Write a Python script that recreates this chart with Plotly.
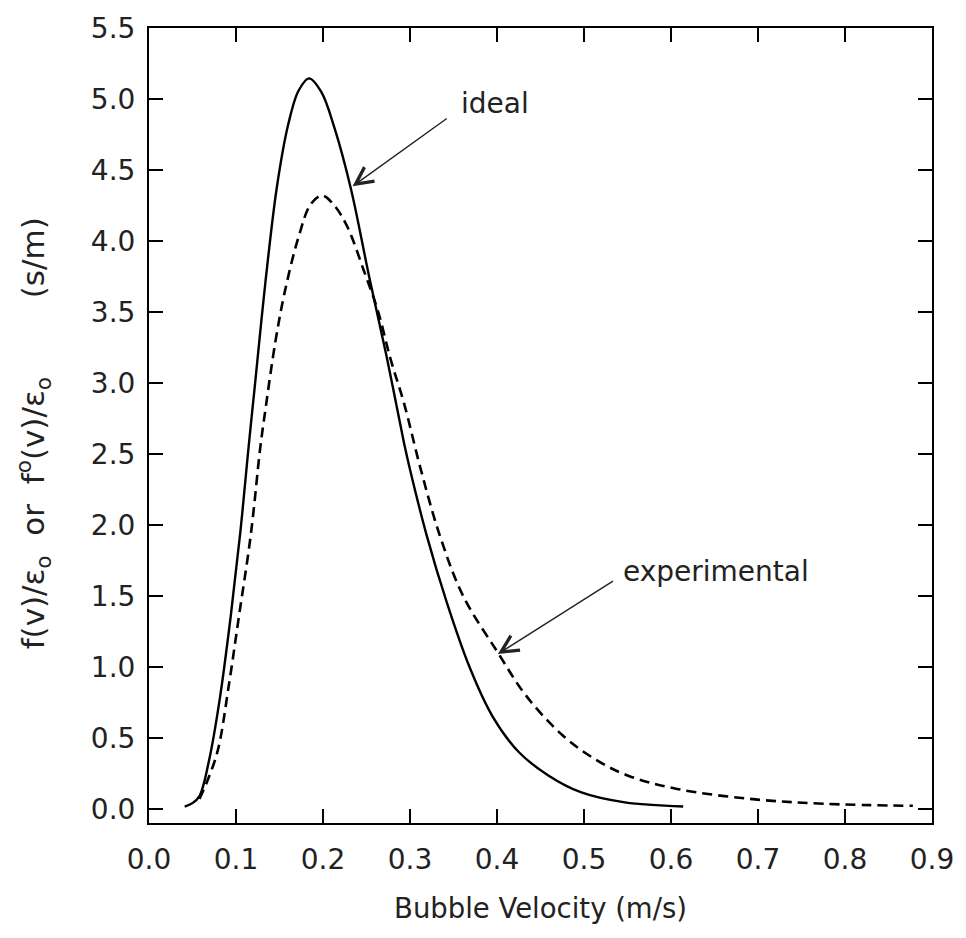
import plotly.graph_objects as go

# Ideal distribution (solid)
ideal_v = [0.041, 0.050, 0.058, 0.069, 0.081, 0.094, 0.105, 0.114, 0.122, 0.134, 0.147, 0.160,
           0.172, 0.184, 0.198, 0.213, 0.232, 0.253, 0.274, 0.293, 0.300, 0.319, 0.342,
           0.369, 0.395, 0.425, 0.459, 0.497, 0.547, 0.614]
ideal_f = [0.016, 0.040, 0.090, 0.34, 0.76, 1.36, 1.95, 2.52, 3.00, 3.72, 4.38, 4.82,
           5.06, 5.145, 5.05, 4.80, 4.37, 3.75, 3.16, 2.58, 2.39, 1.93, 1.46,
           0.99, 0.650, 0.400, 0.235, 0.115, 0.045, 0.016]

# Experimental distribution (dashed)
exp_v = [0.058, 0.066, 0.079, 0.092, 0.103, 0.117, 0.128, 0.134, 0.145, 0.156, 0.172,
         0.186, 0.199, 0.213, 0.228, 0.247, 0.263, 0.278, 0.293, 0.312, 0.334, 0.361,
         0.401, 0.433, 0.475, 0.5125, 0.550, 0.607, 0.694, 0.778, 0.878]
exp_f = [0.07, 0.18, 0.41, 0.88, 1.34, 1.93, 2.55, 2.82, 3.28, 3.64, 4.03,
         4.26, 4.32, 4.25, 4.10, 3.79, 3.51, 3.16, 2.86, 2.40, 1.93, 1.50,
         1.10, 0.80, 0.52, 0.35, 0.235, 0.14, 0.068, 0.035, 0.021]

x_ticks = [0.0, 0.1, 0.2, 0.3, 0.4, 0.5, 0.6, 0.7, 0.8, 0.9]
y_ticks = [0.0, 0.5, 1.0, 1.5, 2.0, 2.5, 3.0, 3.5, 4.0, 4.5, 5.0, 5.5]

FONT = "DejaVu Sans"
FS = 28
TXT = "#222"

fig = go.Figure()
fig.add_trace(go.Scatter(x=ideal_v, y=ideal_f, mode="lines", line_shape="spline",
                         line=dict(color="black", width=2.4), showlegend=False))
fig.add_trace(go.Scatter(x=exp_v, y=exp_f, mode="lines", line_shape="spline",
                         line=dict(color="black", width=2.6, dash="10px,6px"), showlegend=False))

axis_common = dict(showgrid=False, zeroline=False, showline=True, linecolor="black",
                   linewidth=2, mirror="allticks", ticks="inside", ticklen=14,
                   tickwidth=1.6, tickcolor="black", tickformat=".1f",
                   tickfont=dict(family=FONT, size=FS, color=TXT))

fig.update_xaxes(range=[0, 0.9], tickvals=x_ticks, ticklabelstandoff=10,
                 title=dict(text="Bubble Velocity (m/s)", standoff=24,
                            font=dict(family=FONT, size=27.5, color=TXT)),
                 **axis_common)
fig.update_yaxes(range=[-0.1, 5.5], tickvals=y_ticks, ticklabelstandoff=6, **axis_common)

# Y-axis title as rotated annotation
fig.add_annotation(xref="paper", yref="paper", x=-0.147, y=0.49, textangle=-90,
                   text="f(v)/ε<sub>o</sub>  or  f<sup>o</sup>(v)/ε<sub>o</sub>        (s/m)",
                   showarrow=False, font=dict(family=FONT, size=31, color=TXT),
                   xanchor="center", yanchor="middle")

# Labels
fig.add_annotation(x=0.356, y=4.97, xref="x", yref="y", text="ideal", showarrow=False,
                   xanchor="left", yanchor="middle",
                   font=dict(family=FONT, size=FS, color=TXT))
fig.add_annotation(x=0.543, y=1.67, xref="x", yref="y", text="experimental", showarrow=False,
                   xanchor="left", yanchor="middle",
                   font=dict(family=FONT, size=FS, color=TXT))

# Arrows
fig.add_annotation(x=0.234, y=4.385, ax=0.344, ay=4.87, xref="x", yref="y",
                   axref="x", ayref="y", text="", showarrow=True, arrowhead=5,
                   arrowsize=2.4, arrowwidth=1.4, arrowcolor=TXT)
fig.add_annotation(x=0.401, y=1.09, ax=0.535, ay=1.61, xref="x", yref="y",
                   axref="x", ayref="y", text="", showarrow=True, arrowhead=5,
                   arrowsize=2.4, arrowwidth=1.4, arrowcolor=TXT)

fig.update_layout(width=966, height=938, plot_bgcolor="white", paper_bgcolor="white",
                  margin=dict(l=149, r=27, t=22, b=115), showlegend=False)

fig.write_html("out.html")
